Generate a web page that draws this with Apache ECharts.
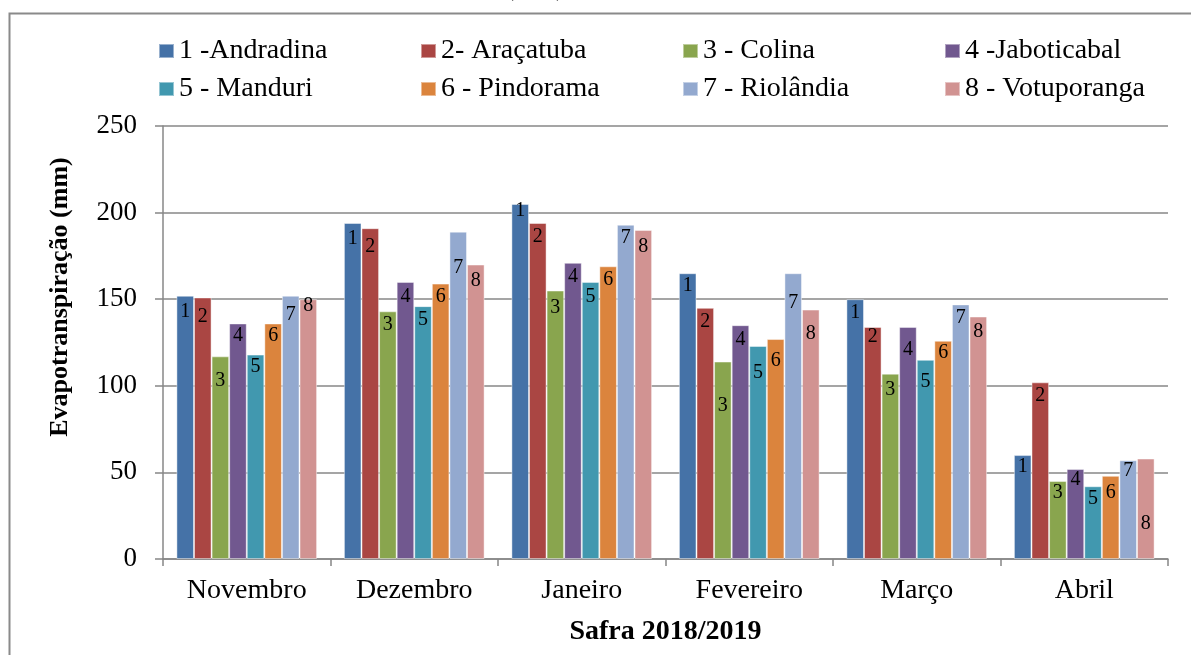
<!DOCTYPE html>
<html>
<head>
<meta charset="utf-8">
<script src="https://cdn.jsdelivr.net/npm/echarts@6/dist/echarts.min.js"></script>
<style>
  html, body { margin: 0; padding: 0; background: #ffffff; }
  #chart { width: 1191px; height: 655px; }
</style>
</head>
<body>
<div id="chart"></div>
<script>
// Months of the 2018/2019 season
const months = ['Novembro', 'Dezembro', 'Janeiro', 'Fevereiro', 'Março', 'Abril'];

// Station names, in legend order
const stations = [
  '1 -Andradina', '2- Araçatuba', '3 - Colina', '4 -Jaboticabal',
  '5 - Manduri', '6 - Pindorama', '7 - Riolândia', '8 - Votuporanga'
];

// Monthly evapotranspiration (mm) per station
const andradina   = [152, 194, 205, 165, 150, 60];
const aracatuba   = [151, 191, 194, 145, 134, 102];
const colina      = [117, 143, 155, 114, 107, 45];
const jaboticabal = [136, 160, 171, 135, 134, 52];
const manduri     = [118, 146, 160, 123, 115, 42];
const pindorama   = [136, 159, 169, 127, 126, 48];
const riolandia   = [152, 189, 193, 165, 147, 57];
const votuporanga = [150, 170, 190, 144, 140, 58];

const seriesValues = [andradina, aracatuba, colina, jaboticabal, manduri, pindorama, riolandia, votuporanga];

// Station-number labels: how far below each bar top (px) the number's centre sits
const labelDrop = [
  [16, 16, 7, 13, 14, 12],
  [19, 19, 14, 14, 10, 13],
  [24, 13, 17, 44, 16, 12],
  [12, 15, 14, 15, 23, 11],
  [12, 14, 15, 27, 22, 12],
  [12, 13, 13, 22, 12, 17],
  [19, 36, 13, 30, 13, 10],
  [7, 16, 17, 24, 15, 65]
];

const colors = ['#4572A7', '#AA4643', '#89A54E', '#71588F', '#4198AF', '#DB843D', '#93A9CF', '#D19392'];

const serif = '"Liberation Serif", "Times New Roman", serif';
const gray = '#878787';
const LABEL_SIZE = 20;

const series = seriesValues.map((vals, i) => ({
  name: stations[i],
  type: 'bar',
  barGap: '0%',
  barCategoryGap: '16%',
  itemStyle: {
    color: colors[i],
    borderColor: 'rgba(255,255,255,0.45)',
    borderWidth: 1
  },
  label: {
    show: true,
    position: 'insideTop',
    distance: 0,
    fontFamily: serif,
    fontSize: LABEL_SIZE,
    lineHeight: LABEL_SIZE,
    color: '#000',
    formatter: () => String(i + 1)
  },
  data: vals.map((v, m) => ({
    value: v,
    label: { offset: [0, labelDrop[i][m] - LABEL_SIZE / 2] }
  }))
}));

// Four legend columns, two stations each
const legendCols = [153, 415, 677, 939];
const legends = legendCols.map((x, c) => ({
  orient: 'vertical',
  left: x,
  top: 32,
  itemWidth: 15,
  itemHeight: 14,
  itemGap: 10,
  icon: 'rect',
  selectedMode: false,
  textStyle: { fontFamily: serif, fontSize: 28, color: '#000', padding: [0, 0, 0, 0] },
  data: [stations[c], stations[c + 4]]
}));

const chart = echarts.init(document.getElementById('chart'), null, { renderer: 'canvas' });
chart.setOption({
  animation: false,
  backgroundColor: '#ffffff',
  color: colors,
  legend: legends,
  grid: { left: 163, right: 23, top: 126, bottom: 96, containLabel: false },
  xAxis: {
    type: 'category',
    data: months,
    name: 'Safra 2018/2019',
    nameLocation: 'middle',
    nameGap: 59,
    nameTextStyle: { fontFamily: serif, fontSize: 28, fontWeight: 'bold', color: '#000' },
    axisLine: { lineStyle: { color: gray, width: 1.5 } },
    axisTick: { show: true, length: 7, lineStyle: { color: gray, width: 1.5 } },
    axisLabel: { margin: 18, fontFamily: serif, fontSize: 28, color: '#000' }
  },
  yAxis: {
    type: 'value',
    min: 0,
    max: 250,
    interval: 50,
    axisLine: { show: true, lineStyle: { color: gray, width: 1.5 } },
    axisTick: { show: true, length: 8, lineStyle: { color: gray, width: 1.5 } },
    axisLabel: { margin: 26, fontFamily: serif, fontSize: 27, color: '#000' },
    splitLine: { lineStyle: { color: gray, width: 1.5 } }
  },
  graphic: [
    {
      type: 'rect',
      silent: true,
      shape: { x: 9.5, y: 13.5, width: 1300, height: 800 },
      style: { fill: null, stroke: '#8a8a8a', lineWidth: 2 }
    },
    {
      // vertical axis title
      type: 'text',
      silent: true,
      x: 60,
      y: 297,
      rotation: Math.PI / 2,
      style: {
        text: 'Evapotranspiração (mm)',
        font: 'bold 26px ' + serif,
        fill: '#000',
        align: 'center',
        verticalAlign: 'middle'
      }
    },
    {
      type: 'text',
      silent: true,
      x: 505,
      y: 1,
      style: {
        text: '(mm)',
        font: '27px ' + serif,
        fill: '#000',
        verticalAlign: 'bottom',
        align: 'left'
      }
    }
  ],
  series: series
});
</script>
</body>
</html>
